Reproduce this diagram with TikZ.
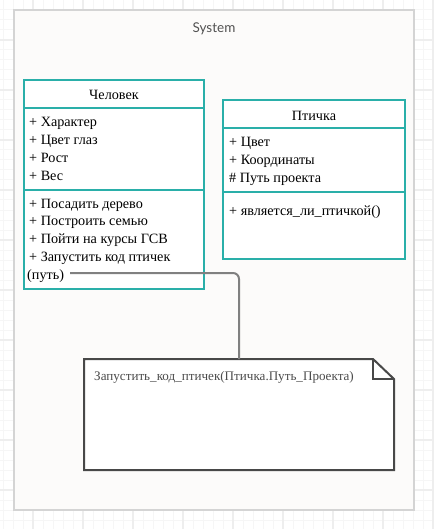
\documentclass[tikz,border=0pt]{standalone}
\usepackage{fontspec}
\newfontfamily\serifone{Liberation Serif}
\newfontfamily\latofont{Lato}
\definecolor{teal1}{HTML}{2AAFA9}
\definecolor{gridminor}{HTML}{F6F6F6}
\definecolor{gridmajor}{HTML}{EEEEEE}
\definecolor{framefill}{HTML}{FCFBFA}
\definecolor{framedraw}{HTML}{D4D4D4}
\definecolor{notedraw}{HTML}{484848}
\definecolor{linkgray}{HTML}{808080}
\tikzset{
  umlbox/.style={draw=teal1, line width=2pt, fill=white},
  umlsep/.style={draw=teal1, line width=2pt},
  item/.style={anchor=west, inner sep=0pt, font=\serifone\fontsize{14.2}{17}\selectfont, text=black},
  head/.style={anchor=center, inner sep=0pt, font=\serifone\fontsize{14.2}{17}\selectfont, text=black},
  notetext/.style={anchor=west, inner sep=0pt, font=\serifone\fontsize{13.1}{15}\selectfont, text=black!70},
  link/.style={draw=linkgray, line width=2pt, rounded corners=6pt},
  notebox/.style={draw=notedraw, line width=2pt, fill=white},
}
\begin{document}
\begin{tikzpicture}[x=1pt, y=-1pt]
\useasboundingbox (0,0) rectangle (433,529);
\fill[white] (0,0) rectangle (433,529);
% grid
\foreach \x in {3,13,...,433} \draw[gridminor, line width=1pt] (\x,0) -- (\x,529);
\foreach \y in {0,10,...,529} \draw[gridminor, line width=1pt] (0,\y) -- (433,\y);
\foreach \x in {33,83,...,433} \draw[gridmajor, line width=1.2pt] (\x,0) -- (\x,529);
\foreach \y in {40,90,...,529} \draw[gridmajor, line width=1.2pt] (0,\y) -- (433,\y);
% system frame
\draw[fill=framefill, draw=framedraw, line width=2pt] (14,10) rectangle (414,510);
\node[anchor=center, inner sep=0pt, font=\latofont\fontsize{13.5}{15}\selectfont, text=black!68] (sys) at (214,29) {System};
% Человек
\draw[umlbox] (24,80) rectangle (204,289);
\draw[umlsep] (24,108) -- (204,108);
\draw[umlsep] (24,190) -- (204,190);
\node[head] (ch) at (114,95) {Человек};
\node[item] (a1) at (29,123) {+ Характер};
\node[item] (a2) at (29,141) {+ Цвет глаз};
\node[item] (a3) at (29,158) {+ Рост};
\node[item] (a4) at (29,176) {+ Вес};
\node[item] (m1) at (29,205) {+ Посадить дерево};
\node[item] (m2) at (29,222) {+ Построить семью};
\node[item] (m3) at (29,240) {+ Пойти на курсы ГСВ};
\node[item] (m4) at (29,258) {+ Запустить код птичек};
\node[item] (m5) at (27,276) {(путь)};
% Птичка
\draw[umlbox] (223,100) rectangle (405,259);
\draw[umlsep] (223,128) -- (405,128);
\draw[umlsep] (223,192) -- (405,192);
\node[head] (pt) at (314,116) {Птичка};
\node[item] (b1) at (229,143) {+ Цвет};
\node[item] (b2) at (229,161) {+ Координаты};
\node[item] (b3) at (229,179) {\# Путь проекта};
\node[item] (c1) at (229,212) {+ является\_ли\_птичкой()};
% note
\draw[notebox] (84,359) -- (373,359) -- (394,379) -- (394,470) -- (84,470) -- cycle;
\draw[notebox, fill=none] (373,359) -- (373,379) -- (394,379);
\coordinate (ntop) at (239,359);
\node[notetext] (nt) at (94,377) {Запустить\_код\_птичек(Птичка.Путь\_Проекта)};
% connector
\coordinate (lstart) at (70,273);
\draw[link] (lstart) -- (239,273) -- (ntop);
\end{tikzpicture}
\end{document}
